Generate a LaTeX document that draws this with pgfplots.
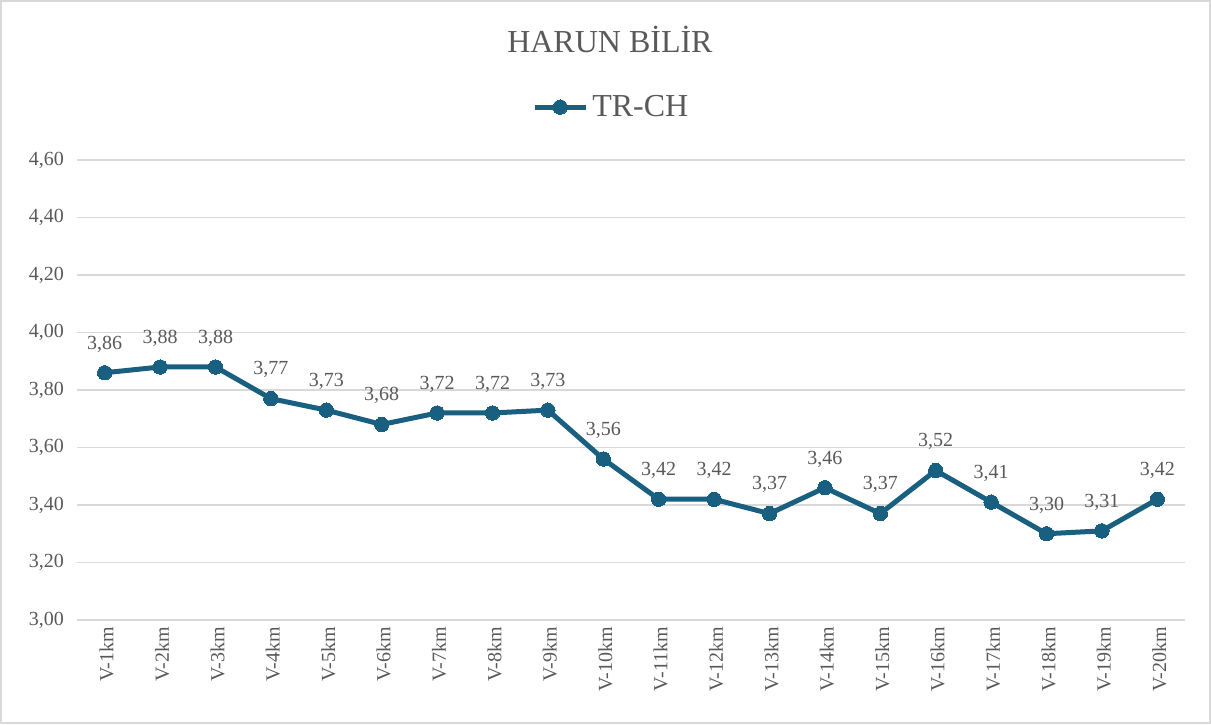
\documentclass[border=0pt]{standalone}
\usepackage{fontspec}
\setmainfont{Liberation Serif}
\usepackage{pgfplots}
\pgfplotsset{compat=1.18}
\definecolor{serie}{HTML}{185F80}
\definecolor{gridc}{HTML}{D9D9D9}
\definecolor{txt}{HTML}{595959}
\begin{document}
\begin{tikzpicture}
\draw[gridc, line width=1pt] (0.5pt,0.5pt) rectangle (605pt,361.5pt);
\begin{axis}[
  at={(38.5pt,52pt)}, anchor=south west,
  scale only axis, width=554pt, height=230pt,
  xmin=-0.5, xmax=19.5, ymin=3, ymax=4.6,
  ytick={3,3.2,...,4.61},
  xtick={0,...,19},
  xticklabels={V-1km,V-2km,V-3km,V-4km,V-5km,V-6km,V-7km,V-8km,V-9km,V-10km,V-11km,V-12km,V-13km,V-14km,V-15km,V-16km,V-17km,V-18km,V-19km,V-20km},
  xticklabel style={rotate=90, anchor=east, font=\fontsize{10}{12}\selectfont, text=txt, yshift=-1pt},
  yticklabel style={font=\fontsize{10}{12}\selectfont, text=txt, xshift=-3pt},
  /pgf/number format/.cd, fixed, fixed zerofill, precision=2, use comma, assume math mode=true,
  /pgfplots/.cd,
  axis line style={draw=none},
  major tick length=0pt,
  ymajorgrids, grid style={gridc, line width=0.8pt},
  title={HARUN B\.{I}L\.{I}R},
  title style={at={(0.481,1.236)}, anchor=center, font=\fontsize{16}{19}\selectfont, text=txt},
  legend style={at={(0.483,1.115)}, anchor=center, draw=none, fill=none, font=\fontsize{16}{19}\selectfont, text=txt, inner sep=0pt},
  legend image code/.code={\draw[#1, mark repeat=2, mark phase=2] plot coordinates {(0cm,0cm) (0.45cm,0cm) (0.9cm,0cm)};},
  nodes near coords,
  every node near coord/.append style={font=\fontsize{10}{12}\selectfont, text=txt, yshift=7pt},
  clip=false,
]
\addplot[serie, line width=2.5pt, mark=*, mark size=3.6pt, mark options={fill=serie, draw=serie, line width=0pt}] coordinates {
(0,3.86) (1,3.88) (2,3.88) (3,3.77) (4,3.73) (5,3.68) (6,3.72) (7,3.72) (8,3.73) (9,3.56)
(10,3.42) (11,3.42) (12,3.37) (13,3.46) (14,3.37) (15,3.52) (16,3.41) (17,3.30) (18,3.31) (19,3.42)};
\addlegendentry{TR-CH}
\end{axis}
\end{tikzpicture}
\end{document}
